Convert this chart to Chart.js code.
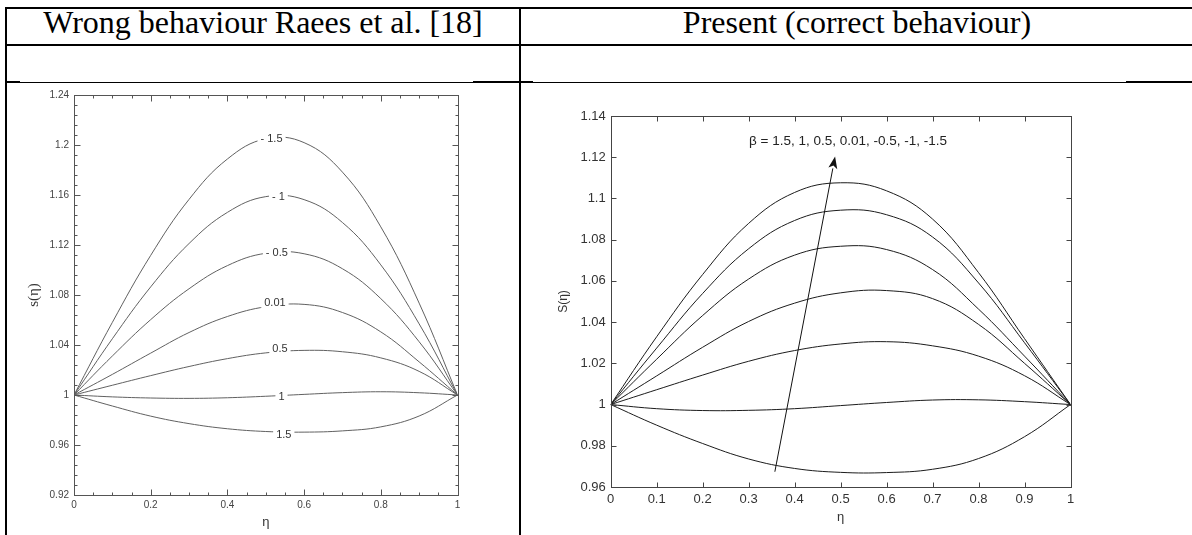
<!DOCTYPE html>
<html>
<head>
<meta charset="utf-8">
<script src="https://cdn.jsdelivr.net/npm/chart.js@4.4.1/dist/chart.umd.min.js"></script>
<style>
  html, body { margin: 0; padding: 0; background: #fff; }
  body { width: 1192px; height: 535px; overflow: hidden; position: relative; }
  .ln { position: absolute; background: #000; }
  .hd { position: absolute; top: 4px; height: 37px; line-height: 37px; text-align: center;
        font-family: "Liberation Serif", "Times New Roman", serif; font-size: 32px; color: #000; }
  #wrapL { position: absolute; left: 8px; top: 84px; width: 510px; height: 451px; }
  #wrapR { position: absolute; left: 522px; top: 84px; width: 670px; height: 451px; }
</style>
</head>
<body>
<!-- linhas da tabela -->
<div class="ln" style="left:5px;top:7px;width:1187px;height:2px"></div>
<div class="ln" style="left:5px;top:44px;width:1187px;height:2px"></div>
<div class="ln" style="left:5px;top:82px;width:1187px;height:1px"></div>
<div class="ln" style="left:5px;top:81px;width:15px;height:2px"></div>
<div class="ln" style="left:473px;top:81px;width:60px;height:2px"></div>
<div class="ln" style="left:1126px;top:81px;width:66px;height:2px"></div>
<div class="ln" style="left:5px;top:7px;width:2px;height:528px"></div>
<div class="ln" style="left:519px;top:7px;width:2px;height:528px"></div>

<div class="hd" style="left:7px;width:512px">Wrong behaviour Raees et al. [18]</div>
<div class="hd" style="left:521px;width:672px">Present (correct behaviour)</div>

<div id="wrapL"><canvas id="cL" width="510" height="451"></canvas></div>
<div id="wrapR"><canvas id="cR" width="670" height="451"></canvas></div>

<script>
// ─── DADOS ───
var ETA = [0, 0.1, 0.2, 0.3, 0.4, 0.5, 0.6, 0.7, 0.8, 0.9, 1];

// Raees et al. [18] (esquerda)
var L_M15  = [1, 1.0581, 1.1117, 1.1565, 1.1888, 1.2050, 1.2019, 1.1783, 1.1345, 1.0735, 1];
var L_M10  = [1, 1.0450, 1.0865, 1.1212, 1.1461, 1.1587, 1.1563, 1.1380, 1.1041, 1.0569, 1];
var L_M05  = [1, 1.0312, 1.0603, 1.0850, 1.1035, 1.1134, 1.1130, 1.1010, 1.0771, 1.0426, 1];
var L_P001 = [1, 1.0165, 1.0335, 1.0500, 1.0628, 1.0706, 1.0725, 1.0660, 1.0505, 1.0265, 1];
var L_P05  = [1, 1.0078, 1.0155, 1.0228, 1.0291, 1.0337, 1.0357, 1.0346, 1.0297, 1.0189, 1];
var L_P10  = [1, 0.9985, 0.9976, 0.9973, 0.9978, 0.9990, 1.0005, 1.0019, 1.0026, 1.0018, 1];
var L_P15  = [1, 0.9912, 0.9831, 0.9771, 0.9730, 0.9708, 0.9703, 0.9713, 0.9745, 0.9832, 1];

// rótulos das curvas (esquerda)
var L_LABELS = ['- 1.5', '- 1', '- 0.5', '0.01', '0.5', '1', '1.5'];
var L_LBL_X  = [0.515, 0.533, 0.529, 0.524, 0.537, 0.541, 0.547];
var L_LBL_Y  = [1.2046, 1.1587, 1.1139, 1.0733, 1.0368, 0.9987, 0.968];

// Present (direita)
var R_M15  = [1, 1.0329, 1.0631, 1.0879, 1.1029, 1.1076, 1.1037, 1.0900, 1.0640, 1.0320, 1];
var R_M10  = [1, 1.0274, 1.0539, 1.0756, 1.0893, 1.0943, 1.0921, 1.0813, 1.0590, 1.0300, 1];
var R_M05  = [1, 1.0220, 1.0432, 1.0609, 1.0725, 1.0768, 1.0752, 1.0655, 1.0463, 1.0235, 1];
var R_P001 = [1, 1.0139, 1.0278, 1.0403, 1.0492, 1.0542, 1.0553, 1.0514, 1.0389, 1.0200, 1];
var R_P05  = [1, 1.0072, 1.0143, 1.0210, 1.0262, 1.0294, 1.0305, 1.0285, 1.0235, 1.0140, 1];
var R_P10  = [1, 0.9980, 0.9971, 0.9972, 0.9980, 0.9995, 1.0010, 1.0022, 1.0023, 1.0014, 1];
var R_P15  = [1, 0.9900, 0.9811, 0.9736, 0.9690, 0.9671, 0.9670, 0.9686, 0.9738, 0.9844, 1];

var BETA_TEXT = 'β = 1.5, 1, 0.5, 0.01, -0.5, -1, -1.5';
var BETA_POS = [0.301, 1.1276];
var ARROW_X = [0.357, 0.488];
var ARROW_Y = [0.9674, 1.1203];

function pts(ys) {
  return ETA.map(function(x, i) { return { x: x, y: ys[i] }; });
}

function serie(nome, ys, cor) {
  return { label: nome, data: pts(ys), borderColor: cor, borderWidth: 1,
           pointRadius: 0, tension: 0.4, fill: false };
}

// rótulo numérico sem zeros à direita (1, 1.2, 0.92)
function fmt(v) { return String(+v.toFixed(4)); }

// moldura com ticks para dentro (todos os lados)
var framePlugin = {
  id: 'frame',
  afterDraw: function(chart, args, o) {
    if (!o.color) return;
    var ctx = chart.ctx, a = chart.chartArea, xs = chart.scales.x, ys = chart.scales.y;
    ctx.save();
    ctx.strokeStyle = o.color;
    ctx.lineWidth = 1;
    var L = Math.round(a.left) + 0.5, R = Math.round(a.right) + 0.5;
    var T = Math.round(a.top) + 0.5, B = Math.round(a.bottom) + 0.5;
    ctx.strokeRect(L, T, R - L, B - T);
    ctx.beginPath();
    function tx(v, len) {
      var p = Math.round(xs.getPixelForValue(v)) + 0.5;
      ctx.moveTo(p, B); ctx.lineTo(p, B - len);
      ctx.moveTo(p, T); ctx.lineTo(p, T + len);
    }
    function ty(v, len) {
      var p = Math.round(ys.getPixelForValue(v)) + 0.5;
      ctx.moveTo(L, p); ctx.lineTo(L + len, p);
      ctx.moveTo(R, p); ctx.lineTo(R - len, p);
    }
    var i, n;
    if (o.minorX) {
      n = Math.round((xs.max - xs.min) / o.minorX);
      for (i = 0; i <= n; i++) tx(xs.min + i * o.minorX, o.minor);
    }
    if (o.minorY) {
      n = Math.round((ys.max - ys.min) / o.minorY);
      for (i = 0; i <= n; i++) ty(ys.min + i * o.minorY, o.minor);
    }
    xs.ticks.forEach(function(t) { tx(t.value, o.major); });
    ys.ticks.forEach(function(t) { ty(t.value, o.major); });
    ctx.stroke();
    ctx.restore();
  }
};

// rótulos no meio das curvas (estilo Tecplot)
var curveLabels = {
  id: 'curveLabels',
  afterDatasetsDraw: function(chart, args, o) {
    if (!o.text) return;
    var ctx = chart.ctx, xs = chart.scales.x, ys = chart.scales.y;
    ctx.save();
    ctx.font = o.font;
    ctx.textAlign = 'center';
    ctx.textBaseline = 'middle';
    o.text.forEach(function(t, i) {
      var px = xs.getPixelForValue(o.xs[i]), py = ys.getPixelForValue(o.ys[i]);
      var w = ctx.measureText(t).width + 6;
      ctx.fillStyle = '#fff';
      ctx.fillRect(px - w / 2, py - 6, w, 12);
      ctx.fillStyle = o.color;
      ctx.fillText(t, px, py);
    });
    ctx.restore();
  }
};

// seta + texto do beta
var arrowPlugin = {
  id: 'arrow',
  afterDatasetsDraw: function(chart, args, o) {
    if (!o.xs) return;
    var ctx = chart.ctx, xs = chart.scales.x, ys = chart.scales.y;
    var x0 = xs.getPixelForValue(o.xs[0]), y0 = ys.getPixelForValue(o.ys[0]);
    var x1 = xs.getPixelForValue(o.xs[1]), y1 = ys.getPixelForValue(o.ys[1]);
    var ang = Math.atan2(y1 - y0, x1 - x0), hl = 12, hw = 4.5;
    var bx = x1 - hl * Math.cos(ang), by = y1 - hl * Math.sin(ang);
    ctx.save();
    ctx.strokeStyle = '#111';
    ctx.fillStyle = '#111';
    ctx.lineWidth = 1;
    ctx.beginPath(); ctx.moveTo(x0, y0); ctx.lineTo(bx, by); ctx.stroke();
    ctx.beginPath();
    ctx.moveTo(x1, y1);
    ctx.lineTo(bx + hw * Math.sin(ang), by - hw * Math.cos(ang));
    ctx.lineTo(bx + 3 * Math.cos(ang), by + 3 * Math.sin(ang));
    ctx.lineTo(bx - hw * Math.sin(ang), by + hw * Math.cos(ang));
    ctx.closePath(); ctx.fill();
    ctx.font = o.font;
    ctx.fillStyle = '#222';
    ctx.textAlign = 'left';
    ctx.textBaseline = 'middle';
    ctx.fillText(o.text, xs.getPixelForValue(o.tx), ys.getPixelForValue(o.ty));
    ctx.restore();
  }
};

Chart.register(framePlugin, curveLabels, arrowPlugin);

var FONTE = '"Liberation Sans", Arial, sans-serif';

var CINZA = '#616161';
new Chart(document.getElementById('cL'), {
  type: 'line',
  data: { datasets: [
    serie('-1.5', L_M15, CINZA), serie('-1', L_M10, CINZA), serie('-0.5', L_M05, CINZA),
    serie('0.01', L_P001, CINZA), serie('0.5', L_P05, CINZA), serie('1', L_P10, CINZA),
    serie('1.5', L_P15, CINZA)
  ] },
  options: {
    responsive: false, animation: false, devicePixelRatio: 1,
    layout: { padding: { top: 11, right: 60.5, left: 0, bottom: 0 } },
    plugins: {
      legend: { display: false }, tooltip: { enabled: false },
      frame: { color: '#555', major: 6, minor: 3, minorX: 0.05, minorY: 0.008 },
      curveLabels: { text: L_LABELS, xs: L_LBL_X, ys: L_LBL_Y, font: '11px ' + FONTE, color: '#333' }
    },
    scales: {
      x: {
        type: 'linear', min: 0, max: 1,
        ticks: { stepSize: 0.2, color: '#444', padding: 4, maxRotation: 0, callback: fmt, font: { family: FONTE, size: 10 } },
        grid: { display: false, drawTicks: false }, border: { display: false },
        title: { display: true, text: 'η', color: '#333', padding: { top: 0, bottom: 5 }, font: { family: FONTE, size: 13 } },
        afterFit: function(s) { s.height = 40; }
      },
      y: {
        min: 0.92, max: 1.24,
        ticks: { stepSize: 0.04, color: '#444', padding: 5, callback: fmt, font: { family: FONTE, size: 10 } },
        grid: { display: false, drawTicks: false }, border: { display: false },
        title: { display: true, text: 's(η)', color: '#333', padding: { top: 17, bottom: 0 }, font: { family: '"Liberation Serif", serif', size: 15 } },
        afterFit: function(s) { s.width = 66; }
      }
    }
  }
});

var PRETO = '#1c1c1c';
new Chart(document.getElementById('cR'), {
  type: 'line',
  data: { datasets: [
    serie('-1.5', R_M15, PRETO), serie('-1', R_M10, PRETO), serie('-0.5', R_M05, PRETO),
    serie('0.01', R_P001, PRETO), serie('0.5', R_P05, PRETO), serie('1', R_P10, PRETO),
    serie('1.5', R_P15, PRETO)
  ] },
  options: {
    responsive: false, animation: false, devicePixelRatio: 1,
    layout: { padding: { top: 32, right: 121.5, left: 0, bottom: 0 } },
    plugins: {
      legend: { display: false }, tooltip: { enabled: false },
      frame: { color: '#444', major: 5, minor: 0 },
      arrow: { xs: ARROW_X, ys: ARROW_Y, text: BETA_TEXT, tx: BETA_POS[0], ty: BETA_POS[1], font: '13.5px ' + FONTE }
    },
    scales: {
      x: {
        type: 'linear', min: 0, max: 1,
        ticks: { stepSize: 0.1, color: '#333', padding: 5, maxRotation: 0, callback: fmt, font: { family: FONTE, size: 13 } },
        grid: { display: false, drawTicks: false }, border: { display: false },
        title: { display: true, text: 'η', color: '#333', padding: { top: 0, bottom: 10 }, font: { family: FONTE, size: 13 } },
        afterFit: function(s) { s.height = 48; }
      },
      y: {
        min: 0.96, max: 1.14,
        ticks: { stepSize: 0.02, color: '#333', padding: 5, callback: fmt, font: { family: FONTE, size: 13 } },
        grid: { display: false, drawTicks: false }, border: { display: false },
        title: { display: true, text: 'S(η)', color: '#333', padding: { top: 34, bottom: 0 }, font: { family: FONTE, size: 12 } },
        afterFit: function(s) { s.width = 88.7; }
      }
    }
  }
});
</script>
</body>
</html>
